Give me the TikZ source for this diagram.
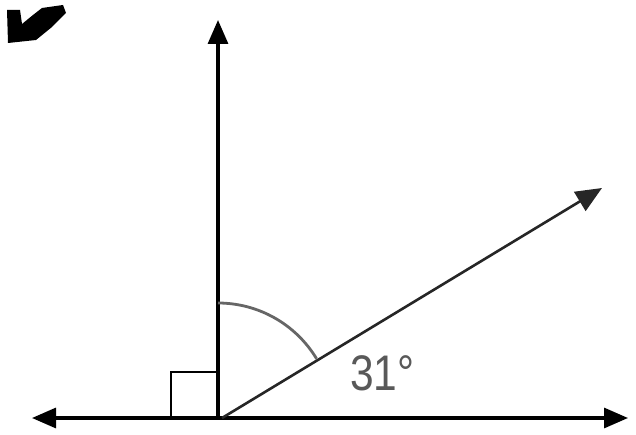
\documentclass[tikz,border=0pt]{standalone}
\usepackage{fontspec}
\setmainfont{Liberation Sans}
\usetikzlibrary{arrows.meta}
\begin{document}
\begin{tikzpicture}[x=1pt,y=-1pt,
  axis/.style={line width=3.2pt,-{Triangle[length=24pt,width=20pt]}},
  ray/.style={line width=2.6pt,black!85,-{Triangle[length=26pt,width=22pt]}},
  arcmark/.style={line width=2.8pt,black!60},
  sq/.style={line width=2.8pt},
  lbl/.style={text=black!65,font=\fontsize{50}{50}\selectfont,inner sep=0pt}]
\useasboundingbox (0,0) rectangle (636,435);
\coordinate (O) at (218,418);
\coordinate (L) at (32,418);
\coordinate (R) at (628,418);
\coordinate (U) at (218,20);
\coordinate (Rs) at (222,418);
\coordinate (T) at (602,188);
\draw[axis] (O) -- (L);
\draw[axis] (O) -- (R);
\draw[axis] (O) -- (U);
\draw[ray] (Rs) -- (T);
\draw[sq] (O) ++(-47,0) coordinate (S1) -- ++(0,-46) coordinate (S2) -- ++(47,0) coordinate (S3);
\draw[arcmark] (218,303) arc[start angle=-90,end angle=-31,radius=115];
\node[lbl,anchor=west] (a) at (350,373) {\scalebox{0.85}[1]{31°}};
\fill (7,10) -- (20,10) -- (22,24) -- (33,15) -- (42,8) -- (63,5) -- (66,13) -- (52,27) -- (36,40) -- (8,43) -- cycle;
\end{tikzpicture}
\end{document}
